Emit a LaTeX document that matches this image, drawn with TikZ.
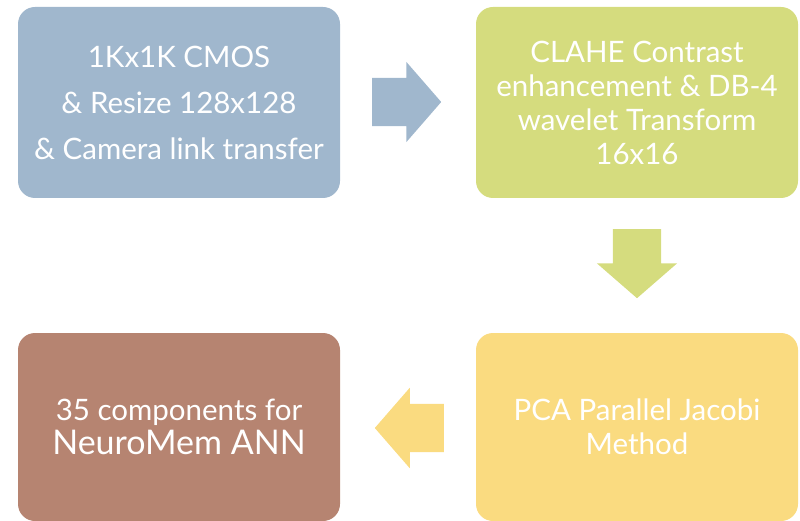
\documentclass[tikz,border=0pt]{standalone}
\usepackage{fontspec}
\setmainfont{Lato}
\usetikzlibrary{shapes.arrows}

\definecolor{stepblue}{RGB}{160,183,205}
\definecolor{stepgreen}{RGB}{213,220,126}
\definecolor{stepyellow}{RGB}{250,219,128}
\definecolor{stepbrown}{RGB}{182,132,113}

\begin{document}
\begin{tikzpicture}[
  x=1pt, y=-1pt,
  stage/.style={rectangle, rounded corners=17pt, draw=none, text=white,
    minimum width=322pt, minimum height=191pt, align=center, inner sep=0pt,
    font=\fontsize{29.5}{34}\selectfont},
  flow/.style={single arrow, draw=none, inner xsep=0pt, inner ysep=24pt,
    minimum height=69pt, single arrow head extend=16pt,
    single arrow tip angle=98, anchor=tail},
  flow_down/.style={flow, inner xsep=24pt, inner ysep=0pt, shape border rotate=270}
]
\useasboundingbox (0,0) rectangle (800,521);

% Processing stages
\node[stage, fill=stepblue, font=\fontsize{29.5}{46}\selectfont] (cmos) at (179,102.5)
  {1Kx1K CMOS\\ \& Resize 128x128\\ \& Camera link transfer};
\node[stage, fill=stepgreen] (clahe) at (637,102.5)
  {CLAHE Contrast\\ enhancement \& DB-4\\ wavelet Transform\\ 16x16};
\node[stage, fill=stepyellow, minimum height=188pt] (pca) at (637,427)
  {PCA Parallel Jacobi\\ Method};
\node[stage, fill=stepbrown, minimum height=188pt] (ann) at (179,427)
  {35 components for\\ {\fontsize{34}{34}\selectfont NeuroMem ANN}};

% Block arrows between stages (placed by their tails)
\node[flow, fill=stepblue] (a1) at (372,102) {};
\node[flow_down, fill=stepgreen] (a2) at (637,229) {};
\node[flow, fill=stepyellow, shape border rotate=180] (a3) at (444,428) {};

\end{tikzpicture}
\end{document}
